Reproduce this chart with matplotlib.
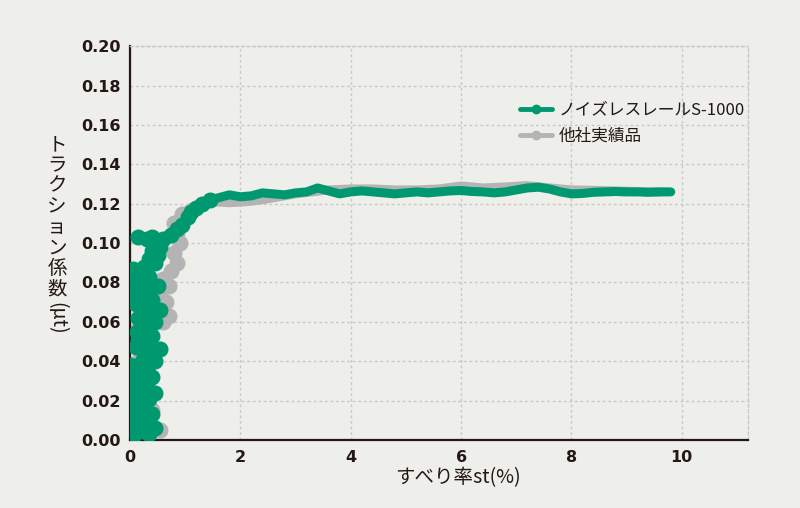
import matplotlib
matplotlib.use("Agg")
import matplotlib.pyplot as plt

plt.rcParams['font.family'] = ['Noto Sans CJK JP', 'DejaVu Sans']

# data
green_label = "ノイズレスレールS-1000"
gray_label = "他社実績品"

green_x = [0.05, 0.35, 0.15, 0.45, 0.05, 0.30, 0.10, 0.40, 0.02, 0.25, 0.08, 0.35,
           0.12, 0.45, 0.20, 0.05, 0.30, 0.15, 0.40, 0.10, 0.30, 0.00, 0.20, 0.45,
           0.25, 0.55, 0.30, 0.10, 0.35, 0.15, 0.40, 0.12, 0.30, 0.20, 0.45, 0.15,
           0.35, 0.55, 0.25, 0.10, 0.40, 0.20, 0.05, 0.30, 0.50, 0.20, 0.10, 0.35,
           0.15, 0.05, 0.25, 0.45, 0.35, 0.50, 0.40, 0.55, 0.45, 0.30, 0.15, 0.40,
           0.60, 0.75, 0.85, 0.95, 1.05, 1.10, 1.20, 1.30, 1.45,
           1.60, 1.80, 2.00, 2.20, 2.40, 2.60, 2.80, 3.00, 3.20, 3.40, 3.60, 3.80,
           4.00, 4.20, 4.40, 4.60, 4.80, 5.00, 5.20, 5.40, 5.60, 5.80, 6.00, 6.20,
           6.40, 6.60, 6.80, 7.00, 7.20, 7.40, 7.60, 7.80, 8.00, 8.20, 8.40, 8.60,
           8.80, 9.00, 9.20, 9.40, 9.60, 9.80]
green_y = [0.002, 0.003, 0.005, 0.006, 0.008, 0.010, 0.012, 0.013, 0.016, 0.017, 0.019, 0.021,
           0.023, 0.024, 0.026, 0.028, 0.029, 0.031, 0.032, 0.034, 0.036, 0.038, 0.039, 0.040,
           0.042, 0.046, 0.045, 0.047, 0.049, 0.051, 0.053, 0.055, 0.057, 0.059, 0.060, 0.062,
           0.064, 0.066, 0.067, 0.069, 0.071, 0.073, 0.075, 0.076, 0.078, 0.080, 0.082, 0.083,
           0.085, 0.087, 0.088, 0.090, 0.092, 0.094, 0.096, 0.098, 0.100, 0.102, 0.103, 0.103,
           0.102, 0.104, 0.107, 0.109, 0.113, 0.116, 0.118, 0.120, 0.122,
           0.123, 0.1245, 0.1235, 0.124, 0.1255, 0.125, 0.1245, 0.1255, 0.126, 0.128, 0.1265, 0.125,
           0.126, 0.1265, 0.126, 0.1255, 0.125, 0.1255, 0.126, 0.1255, 0.126, 0.1265, 0.1267, 0.1262,
           0.126, 0.1255, 0.126, 0.127, 0.128, 0.1284, 0.1275, 0.126, 0.125, 0.1252, 0.1258, 0.126,
           0.1262, 0.126, 0.126, 0.1258, 0.126, 0.126]

gray_x = [0.05, 0.55, 0.20, 0.40, 0.10, 0.35, 0.08, 0.30, 0.15, 0.40, 0.02, 0.30,
          0.60, 0.70, 0.45, 0.65, 0.55, 0.70, 0.60, 0.75, 0.85, 0.80, 0.90, 0.85,
          0.80, 0.95, 1.10, 1.30, 1.50, 1.80, 2.10, 2.40, 2.70, 3.00, 3.30, 3.60,
          4.00, 4.40, 4.80, 5.20, 5.60, 6.00, 6.40, 6.80, 7.20, 7.60, 8.00, 8.40,
          8.80, 9.20, 9.60]
gray_y = [0.001, 0.005, 0.010, 0.015, 0.020, 0.025, 0.030, 0.035, 0.040, 0.045, 0.055, 0.057,
          0.060, 0.063, 0.067, 0.070, 0.075, 0.078, 0.082, 0.086, 0.090, 0.095, 0.100, 0.105,
          0.110, 0.115, 0.118, 0.120, 0.121, 0.1205, 0.121, 0.122, 0.1235, 0.125, 0.126, 0.127,
          0.1275, 0.1275, 0.127, 0.127, 0.1275, 0.129, 0.128, 0.1285, 0.1292, 0.128, 0.127, 0.1268,
          0.1265, 0.1262, 0.126]

x_ticks = [0, 2, 4, 6, 8, 10]
y_ticks = [0.00, 0.02, 0.04, 0.06, 0.08, 0.10, 0.12, 0.14, 0.16, 0.18, 0.20]

bg = '#eeeeea'
txt = '#231815'
green = '#00996f'
gray = '#b4b4b4'

fig = plt.figure(figsize=(8, 5.08), dpi=100, facecolor=bg)
ax = fig.add_axes([0.1625, 0.134, 0.7725, 0.775])
ax.set_facecolor(bg)

n_noisy_g = 69
n_noisy_k = 26
ax.plot(gray_x, gray_y, color=gray, lw=6.5, marker='o', ms=10.5, markevery=list(range(n_noisy_k)),
        solid_capstyle='round', solid_joinstyle='round', label=gray_label, zorder=2)
ax.plot(green_x, green_y, color=green, lw=6.5, marker='o', ms=10.5, markevery=list(range(n_noisy_g)),
        solid_capstyle='round', solid_joinstyle='round', label=green_label, zorder=3)

ax.set_xlim(0, 11.2)
ax.set_ylim(0, 0.20)
ax.set_xticks(x_ticks)
ax.set_yticks(y_ticks)
ax.set_xticklabels([str(v) for v in x_ticks])
ax.set_yticklabels([f"{v:.2f}" for v in y_ticks])
ax.tick_params(axis='both', length=0, colors=txt, pad=7)
for lab in ax.get_xticklabels() + ax.get_yticklabels():
    lab.set_family('DejaVu Sans')
    lab.set_fontweight('bold')
    lab.set_fontsize(11.5)

ax.grid(True, color='#c8c8c6', ls=(0, (2, 2)), lw=1)
ax.set_axisbelow(True)
for s in ['top', 'right']:
    ax.spines[s].set_color('#c8c8c6')
    ax.spines[s].set_linestyle((0, (2, 2)))
    ax.spines[s].set_linewidth(1)
for s in ['left', 'bottom']:
    ax.spines[s].set_color(txt)
    ax.spines[s].set_linewidth(1.6)

fig.text(458 / 800, 1 - 478 / 508, "すべり率st(%)", fontsize=14, color=txt,
         ha='center', va='center')

# vertical y label
fig.text(57 / 800, 1 - 217 / 508, "\n".join("トラクション係数"), fontsize=14, color=txt,
         ha='center', va='center', linespacing=0.98)
fig.text(57 / 800, 1 - 318 / 508, "(μt)", fontsize=14, color=txt, rotation=270,
         ha='center', va='center')

handles, labels = ax.get_legend_handles_labels()
leg = fig.legend(handles[::-1], labels[::-1], loc='center left',
                 bbox_to_anchor=(505 / 800, 1 - 123 / 508),
                 frameon=False, fontsize=12, handlelength=1.9, handletextpad=0.4,
                 labelspacing=0.55, labelcolor=txt, numpoints=1)
for h in leg.legend_handles:
    h.set_linewidth(3.5)
    h.set_markersize(6)
    h.set_markevery([1])

fig.savefig("out.png", dpi=100, facecolor=bg)
